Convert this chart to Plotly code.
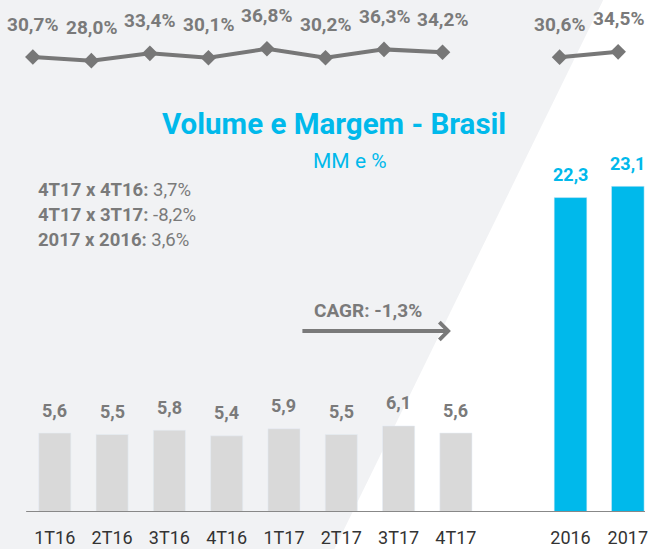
import plotly.graph_objects as go

# ---------------- data ----------------
quarters = ["1T16", "2T16", "3T16", "4T16", "1T17", "2T17", "3T17", "4T17"]
quarter_volume = [5.6, 5.5, 5.8, 5.4, 5.9, 5.5, 6.1, 5.6]
quarter_margin = [30.7, 28.0, 33.4, 30.1, 36.8, 30.2, 36.3, 34.2]
years = ["2016", "2017"]
year_volume = [22.3, 23.1]
year_margin = [30.6, 34.5]
comparisons = ["4T17 x 4T16:", "4T17 x 3T17:", "2017 x 2016:"]
changes = ["3,7%", "-8,2%", "3,6%"]
cagr_label = "CAGR: -1,3%"
title_text = "Volume e Margem - Brasil"
subtitle_text = "MM e %"

# ---------------- style ----------------
W, H = 648, 549
MB = 37
PH = H - MB
GREY_TXT = "#7a7a7a"
CYAN = "#00b9eb"
BAR_GREY = "#d9d9d9"
BG = "#f1f2f4"
FONT = "Roboto"


def fmt(v):
    return f"{v:.1f}".replace(".", ",")


def px(x):
    return x / W


def py(y):
    return (PH - y) / PH


q_pos = list(range(len(quarters)))
a_pos = [len(quarters) + 1 + i for i in range(len(years))]

fig = go.Figure()

fig.add_trace(go.Bar(x=q_pos, y=quarter_volume, marker_color=BAR_GREY, width=0.56,
                     hoverinfo="skip", showlegend=False))
fig.add_trace(go.Bar(x=a_pos, y=year_volume, marker_color=CYAN, width=0.57,
                     hoverinfo="skip", showlegend=False))

line_x = q_pos + [len(quarters)] + a_pos
line_y = quarter_margin + [None] + year_margin
fig.add_trace(go.Scatter(x=line_x, y=line_y, xaxis="x2", yaxis="y2", mode="lines+markers",
                         connectgaps=False,
                         line=dict(color="#777777", width=4),
                         marker=dict(symbol="diamond", size=12, color="#777777"),
                         hoverinfo="skip", showlegend=False))

annotations = []
# bar labels
for xp, v in zip(q_pos, quarter_volume):
    annotations.append(dict(x=xp, y=v, xref="x", yref="y", text=f"<b>{fmt(v)}</b>",
                            showarrow=False, yshift=23, yanchor="middle",
                            font=dict(family=FONT, size=18, color=GREY_TXT)))
for xp, v in zip(a_pos, year_volume):
    annotations.append(dict(x=xp, y=v, xref="x", yref="y", text=f"<b>{fmt(v)}</b>",
                            showarrow=False, yshift=23, yanchor="middle",
                            font=dict(family=FONT, size=18, color=CYAN)))
# margin labels
for xp, v in zip(q_pos + a_pos, quarter_margin + year_margin):
    annotations.append(dict(x=xp, y=v, xref="x2", yref="y2", text=f"<b>{fmt(v)}%</b>",
                            showarrow=False, yshift=33, yanchor="middle",
                            font=dict(family=FONT, size=19, color=GREY_TXT)))
# title
annotations.append(dict(x=px(336), y=py(124), xref="paper", yref="paper",
                        text=f"<b>{title_text}</b>", showarrow=False,
                        xanchor="center", yanchor="middle",
                        font=dict(family=FONT, size=29.5, color=CYAN)))
annotations.append(dict(x=px(352), y=py(161), xref="paper", yref="paper",
                        text=subtitle_text, showarrow=False,
                        xanchor="center", yanchor="middle",
                        font=dict(family=FONT, size=21, color=CYAN)))
# comparisons
for i, (c, ch) in enumerate(zip(comparisons, changes)):
    annotations.append(dict(x=px(36), y=py(190 + 25 * i), xref="paper", yref="paper",
                            text=f"<b>{c}</b> {ch}", showarrow=False,
                            xanchor="left", yanchor="middle",
                            font=dict(family=FONT, size=18.5, color=GREY_TXT)))
# CAGR
annotations.append(dict(x=px(370), y=py(310), xref="paper", yref="paper",
                        text=f"<b>{cagr_label}</b>", showarrow=False,
                        xanchor="center", yanchor="middle",
                        font=dict(family=FONT, size=19, color=GREY_TXT)))
annotations.append(dict(x=px(453), y=py(331), xref="paper", yref="paper",
                        ax=-150, ay=0, text="", showarrow=True,
                        arrowhead=4, arrowsize=0.85, arrowwidth=4, arrowcolor="#7a7a7a"))

shapes = [
    dict(type="path", xref="paper", yref="paper", layer="below",
         path=f"M 0,1 L {px(606)},1 L {px(336)},{-MB / PH} L 0,{-MB / PH} Z",
         fillcolor=BG, line=dict(width=0)),
    dict(type="line", xref="x", yref="y", x0=-0.5, x1=11, y0=0, y1=0,
         line=dict(color="#888888", width=2)),
]

fig.update_layout(
    width=W, height=H,
    margin=dict(l=0, r=0, t=0, b=MB),
    paper_bgcolor="white", plot_bgcolor="rgba(0,0,0,0)",
    barmode="overlay",
    annotations=annotations, shapes=shapes,
    xaxis=dict(range=[-0.956, 10.30], tickvals=q_pos + a_pos, ticktext=quarters + years,
               showgrid=False, zeroline=False, showline=False, ticks="",
               tickfont=dict(family=FONT, size=18, color="#333333"),
               ticklabelstandoff=13, ticklabeloverflow="allow", fixedrange=True),
    yaxis=dict(range=[0, PH / 14.1], visible=False, fixedrange=True),
    xaxis2=dict(overlaying="x", range=[-0.561, 10.459], visible=False),
    yaxis2=dict(overlaying="y", range=[30.7 - (PH - 57) / 1.36, 30.7 + 57 / 1.36], visible=False),
)

fig.write_html("out.html", config={"displayModeBar": False},
               post_script="document.body.style.margin='0';document.body.style.overflow='hidden';")
